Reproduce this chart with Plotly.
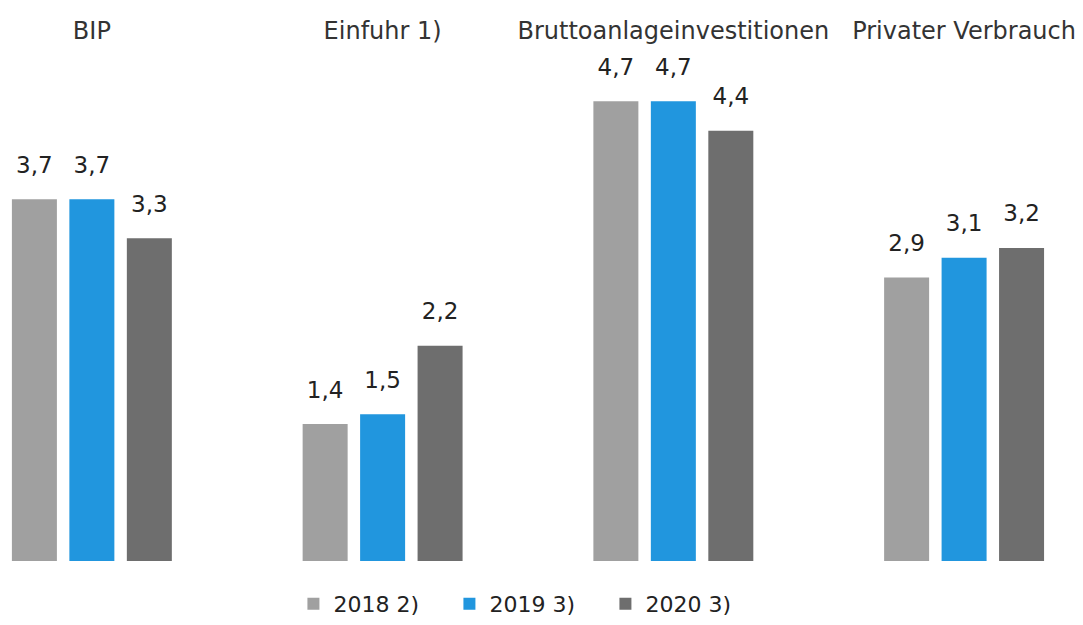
import plotly.graph_objects as go

categories = ["BIP", "Einfuhr 1)", "Bruttoanlageinvestitionen", "Privater Verbrauch"]
series_names = ["2018 2)", "2019 3)", "2020 3)"]
values_2018 = [3.7, 1.4, 4.7, 2.9]
values_2019 = [3.7, 1.5, 4.7, 3.1]
values_2020 = [3.3, 2.2, 4.4, 3.2]
colors = ["#A0A0A0", "#2196DE", "#6E6E6E"]
LABEL_LIFT = 0.19  # invisible spacer above each bar that carries the value label

fig = go.Figure()
for i, (name, vals, col) in enumerate(zip(series_names, [values_2018, values_2019, values_2020], colors)):
    fig.add_trace(go.Bar(
        x=categories, y=vals, name=name, offsetgroup=str(i),
        marker=dict(color=col, line=dict(width=0)),
        hoverinfo="x+y+name",
    ))
    fig.add_trace(go.Bar(
        x=categories, y=[LABEL_LIFT] * len(vals), base=vals, offsetgroup=str(i),
        marker=dict(color="rgba(0,0,0,0)", line=dict(width=0)),
        text=[f"{v:.1f}".replace(".", ",") for v in vals],
        textposition="outside", textfont=dict(family="DejaVu Sans", size=23, color="#222222"),
        cliponaxis=False, showlegend=False, hoverinfo="skip",
    ))

fig.update_layout(
    width=1083, height=625,
    paper_bgcolor="white", plot_bgcolor="white",
    font=dict(family="DejaVu Sans", size=22, color="#333333"),
    barmode="group", bargap=0.407, bargroupgap=0.217,
    margin=dict(l=0, r=0, t=45, b=63),
    xaxis=dict(side="top", range=[-0.316, 3.409], showline=False, showgrid=False,
               ticks="", tickfont=dict(family="DejaVu Sans", size=24, color="#333333")),
    yaxis=dict(range=[0, 5.276], visible=False),
    showlegend=True,
    legend=dict(orientation="h", x=0.487, xanchor="center", y=-0.083, yanchor="middle",
                entrywidth=111, entrywidthmode="pixels",
                font=dict(family="DejaVu Sans", size=22, color="#222222")),
)

fig.write_html("out.html", config={"displayModeBar": False},
               post_script="document.body.style.margin='0px';")
